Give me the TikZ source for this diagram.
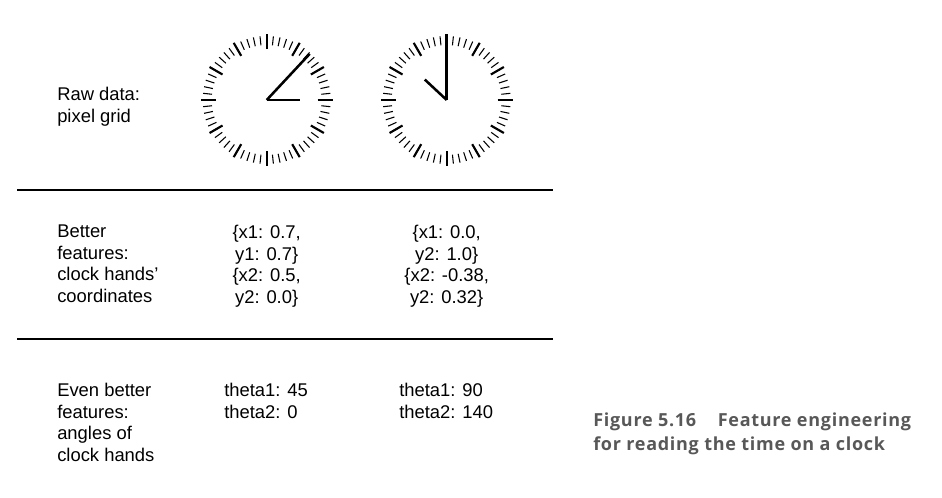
\documentclass[tikz,border=0pt]{standalone}
\usepackage{fontspec}
\setmainfont{Liberation Sans}
\newfontfamily\capfont[LetterSpace=4]{Open Sans}
\usetikzlibrary{positioning,calc}
\definecolor{capgray}{RGB}{88,88,88}
\newcommand{\clockdial}[1]{%
  \foreach \a in {0,6,...,354}
    \draw[minortick] ($(#1)+(\a:55)$) -- ($(#1)+(\a:64)$);
  \foreach \a in {0,30,...,330}
    \draw[majortick] ($(#1)+(\a:51)$) -- ($(#1)+(\a:66)$);
}

\begin{document}
\begin{tikzpicture}[
  x=0.75pt,
  y=-0.75pt,
  lbl/.style={
    anchor=north west,
    inner sep=0pt,
    align=left,
    font=\fontsize{13.8}{16.1}\selectfont
  },
  val/.style={
    anchor=north,
    inner sep=0pt,
    align=center,
    font=\fontsize{13.8}{16.1}\selectfont
  },
  figcap/.style={
    anchor=north west,
    inner sep=0pt,
    align=left,
    text=capgray,
    font=\capfont\bfseries\fontsize{13.5}{17.3}\selectfont
  },
  minortick/.style={line width=0.8pt},
  majortick/.style={line width=1.6pt},
  hand/.style={line width=1.9pt},
  rule/.style={line width=1pt}
]
\useasboundingbox (0,0) rectangle (942,497);

% clocks
\coordinate (c1) at (266.7,100);
\coordinate (c2) at (446.7,100);
\clockdial{c1}
\clockdial{c2}
\draw[hand] (c1) -- ++(-47:63);
\draw[hand] (c1) -- ++(0:33);
\draw[hand] (c2) -- ++(-90:66);
\draw[hand] (c2) -- ++(-137:30);

% separators
\coordinate (r1w) at (17,190);
\coordinate (r1e) at (553,190);
\coordinate (r2w) at (17,339);
\coordinate (r2e) at (553,339);
\draw[rule] (r1w) -- (r1e);
\draw[rule] (r2w) -- (r2e);

\node[lbl] (raw) at (57,87) {Raw data:\\pixel grid};

\node[lbl] (better) at (57,225) {Better\\features:\\clock hands'\\coordinates};
\node[val] (xy1) at (266.7,225) {\{x1: 0.7,\\y1: 0.7\}\\\{x2: 0.5,\\y2: 0.0\}};
\node[val] (xy2) at (446.7,225) {\{x1: 0.0,\\y2: 1.0\}\\\{x2: -0.38,\\y2: 0.32\}};

\node[lbl] (even) at (57,383) {Even better\\features:\\angles of\\clock hands};
\node[lbl] (th1) at (224,383) {theta1: 45\\theta2: 0};
\node[lbl] (th2) at (399,383) {theta1: 90\\theta2: 140};

\node[figcap] (caption) at (593,413) {Figure 5.16\hspace{1.2em}Feature engineering\\for reading the time on a clock};

\end{tikzpicture}
\end{document}
